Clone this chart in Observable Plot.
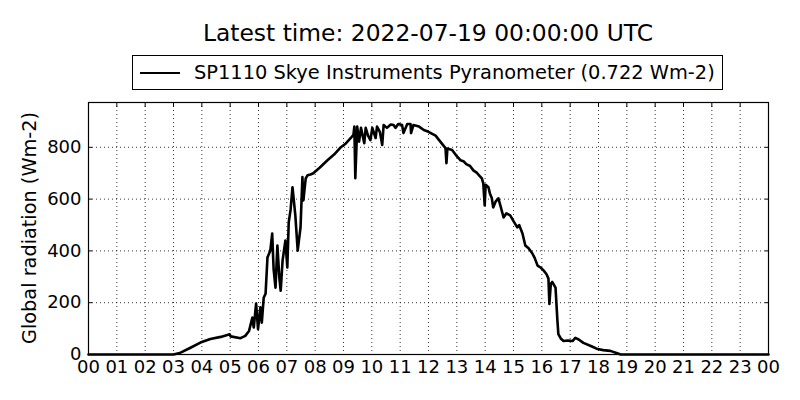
<!DOCTYPE html>
<html>
<head>
<meta charset="utf-8">
<script src="https://cdn.jsdelivr.net/npm/d3@7"></script>
<script src="https://cdn.jsdelivr.net/npm/@observablehq/plot@0.6"></script>
<style>
  html, body { margin: 0; padding: 0; background: white; }
  #wrap { position: relative; width: 800px; height: 400px; font-family: "DejaVu Sans", sans-serif; color: black; }
  #title { position: absolute; left: 0; width: 856px; top: 22px; text-align: center; font-size: 23.4px; line-height: 1; white-space: nowrap; }
  #legend { position: absolute; left: 132px; top: 55px; width: 591px; height: 35px; box-sizing: border-box; border: 1px solid black; background: white; display: flex; align-items: center; white-space: nowrap; }
  #legend .swatch { display: inline-block; width: 40px; height: 0; border-top: 2.6px solid black; margin-left: 7px; margin-right: 14px; }
  #legend .txt { font-size: 19.4px; line-height: 1; }
  #ylabel { position: absolute; left: 30px; top: 228px; transform: translate(-50%, -50%) rotate(-90deg); font-size: 19.3px; line-height: 1; white-space: nowrap; }
</style>
</head>
<body>
<div id="wrap">
  <div id="chart"></div>
  <div id="title"></div>
  <div id="legend"><span class="swatch"></span><span class="txt"></span></div>
  <div id="ylabel"></div>
</div>
<script>
const titleText = "Latest time: 2022-07-19 00:00:00 UTC";
const seriesName = "SP1110 Skye Instruments Pyranometer (0.722 Wm-2)";
const yLabel = "Global radiation (Wm-2)";

const times = [
  "00:00","03:00","03:15","03:36","03:57","04:18","04:40","04:59","05:01","05:22",
  "05:32","05:40","05:47","05:50","05:55","05:59","06:04","06:07","06:11","06:15",
  "06:19","06:25","06:29","06:32","06:36","06:40","06:44","06:47","06:51","06:57",
  "07:01","07:04","07:08","07:12","07:18","07:23","07:29","07:33","07:35","07:40",
  "07:44","07:50","07:56","08:10","08:26","08:40","08:53","09:05","09:15","09:21",
  "09:23","09:25","09:29","09:33","09:37","09:44","09:47","09:52","09:57","10:01",
  "10:08","10:11","10:17","10:22","10:25","10:32","10:40","10:46","10:50","10:56",
  "11:04","11:07","11:15","11:22","11:23","11:28","11:40","11:50","12:00","12:15",
  "12:25","12:36","12:38","12:40","12:50","12:58","13:08","13:15","13:20","13:28",
  "13:35","13:42","13:48","13:53","13:56","13:59","14:01","14:07","14:10","14:14",
  "14:17","14:22","14:28","14:33","14:39","14:45","14:53","15:00","15:08","15:12",
  "15:19","15:25","15:32","15:40","15:45","15:51","15:58","16:04","16:10","16:14",
  "16:16","16:19","16:22","16:29","16:33","16:35","16:40","16:46","16:55","17:05",
  "17:11","17:18","17:28","17:45","17:58","18:10","18:25","18:38","18:47","24:00"
];
const values = [
  0,0,7,26,46,60,68,78,70,63,
  72,91,143,104,197,98,182,123,219,235,
  375,401,467,330,258,421,300,246,363,440,
  336,510,560,646,537,401,491,685,595,680,
  692,695,700,722,750,772,798,815,835,848,
  880,681,880,822,875,816,875,845,828,875,
  836,880,860,809,886,875,888,886,875,890,
  886,855,890,890,855,886,880,867,860,845,
  822,797,739,795,790,770,750,745,735,728,
  711,702,690,680,661,576,655,646,622,604,
  568,590,603,570,529,545,537,515,491,500,
  467,421,410,390,372,343,335,324,310,293,
  195,273,280,258,130,79,62,52,54,52,
  64,58,45,32,21,17,14,6,0,0
];

const hourTicks = d3.range(0, 25);
const hourLabels = ["00","01","02","03","04","05","06","07","08","09","10","11","12",
                    "13","14","15","16","17","18","19","20","21","22","23","00"];
const yTicks = [0, 200, 400, 600, 800];
const yMax = 973;

const toHours = t => { const [h, m] = t.split(":").map(Number); return h + m / 60; };
const data = times.map((t, i) => ({h: toHours(t), v: values[i]}));

const gridStyle = {stroke: "black", strokeOpacity: 1, strokeWidth: 0.8, strokeDasharray: "1,3"};

const chart = Plot.plot({
  width: 800,
  height: 400,
  marginTop: 102,
  marginLeft: 88,
  marginRight: 32,
  marginBottom: 46,
  style: {fontFamily: "DejaVu Sans, sans-serif", fontSize: "18px", color: "black", background: "white", overflow: "visible"},
  x: {domain: [0, 24]},
  y: {domain: [0, yMax]},
  marks: [
    Plot.gridX(hourTicks.slice(1, -1), gridStyle),
    Plot.gridY(yTicks.slice(1), gridStyle),
    Plot.line(data, {x: "h", y: "v", stroke: "black", strokeWidth: 2.6, strokeLinejoin: "round"}),
    Plot.axisX(hourTicks, {anchor: "bottom", tickSize: 0, tickPadding: 6, tickFormat: d => hourLabels[d], label: null, fontSize: 18}),
    Plot.axisX(hourTicks, {anchor: "top", tickSize: -4, tickFormat: () => "", label: null}),
    Plot.axisY(yTicks, {anchor: "left", tickSize: 0, tickPadding: 7, label: null, fontSize: 18}),
    Plot.axisY(yTicks, {anchor: "left", tickSize: -4, tickFormat: () => "", label: null}),
    Plot.axisY(yTicks, {anchor: "right", tickSize: -4, tickFormat: () => "", label: null}),
    Plot.frame({stroke: "black", strokeWidth: 1.2})
  ]
});
document.getElementById("chart").appendChild(chart);
document.getElementById("title").textContent = titleText;
document.querySelector("#legend .txt").textContent = seriesName;
document.getElementById("ylabel").textContent = yLabel;
</script>
</body>
</html>
